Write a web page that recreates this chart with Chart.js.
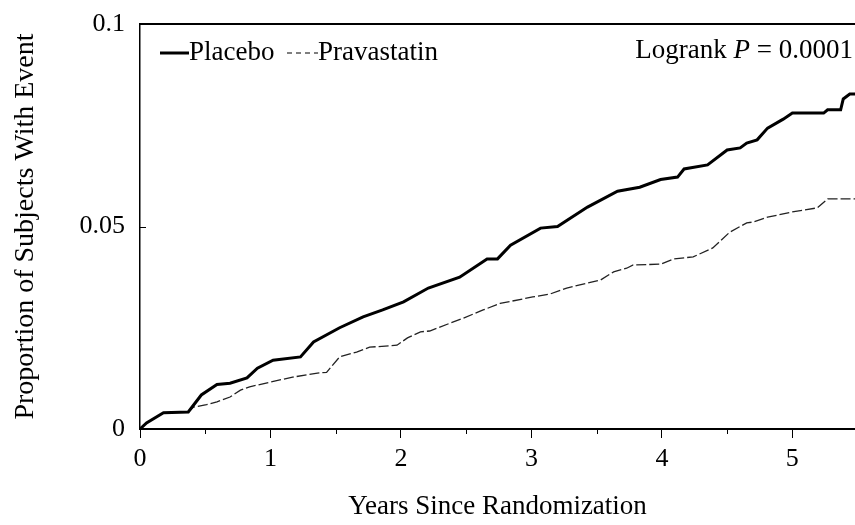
<!DOCTYPE html>
<html>
<head>
<meta charset="utf-8">
<script src="https://cdn.jsdelivr.net/npm/chart.js@4"></script>
<style>
  html, body { margin: 0; padding: 0; background: #fff; }
  canvas { display: block; }
</style>
</head>
<body>
<canvas id="grafica" width="855" height="525"></canvas>
<script>
// datos
const placeboYears = [0, 0.05, 0.18, 0.37, 0.47, 0.59, 0.69, 0.82, 0.90, 1.02, 1.23, 1.33, 1.53, 1.71, 1.86, 2.02, 2.21, 2.45, 2.66, 2.74, 2.84, 3.07, 3.20, 3.43, 3.66, 3.83, 3.99, 4.12, 4.17, 4.35, 4.50, 4.60, 4.65, 4.73, 4.81, 4.93, 5.00, 5.24, 5.27, 5.37, 5.39, 5.44, 5.48];
const placeboRisk  = [0, 0.0015, 0.004, 0.0042, 0.0084, 0.011, 0.0113, 0.0126, 0.015, 0.017, 0.0178, 0.0215, 0.025, 0.0277, 0.0294, 0.0314, 0.0348, 0.0375, 0.042, 0.042, 0.0454, 0.0496, 0.050, 0.0548, 0.0587, 0.0597, 0.0616, 0.0622, 0.0642, 0.0652, 0.0689, 0.0694, 0.0706, 0.0714, 0.0743, 0.0765, 0.078, 0.078, 0.0788, 0.0788, 0.0815, 0.0827, 0.0827];

const pravaYears = [0, 0.05, 0.18, 0.37, 0.41, 0.51, 0.59, 0.69, 0.77, 0.84, 1.0, 1.17, 1.36, 1.43, 1.53, 1.66, 1.76, 1.97, 2.05, 2.15, 2.22, 2.48, 2.63, 2.76, 3.01, 3.14, 3.27, 3.53, 3.63, 3.73, 3.78, 3.99, 4.09, 4.24, 4.39, 4.52, 4.65, 4.70, 4.81, 5.0, 5.19, 5.27, 5.48];
const pravaRisk  = [0, 0.0015, 0.004, 0.0042, 0.0054, 0.006, 0.0067, 0.0079, 0.0096, 0.0104, 0.0116, 0.0128, 0.0138, 0.014, 0.0178, 0.019, 0.0202, 0.0207, 0.0225, 0.024, 0.0242, 0.0274, 0.0294, 0.031, 0.0326, 0.0333, 0.0348, 0.0368, 0.0388, 0.0397, 0.0405, 0.0407, 0.042, 0.0425, 0.0447, 0.0486, 0.0509, 0.0511, 0.0523, 0.0536, 0.0546, 0.0568, 0.0568];

const xTicks = [0, 1, 2, 3, 4, 5];
const xMinorTicks = [0.5, 1.5, 2.5, 3.5, 4.5];
const yTicks = [0, 0.05, 0.1];
const yTickLabels = ["0", "0.05", "0.1"];

const serif = "'Liberation Serif', 'Times New Roman', serif";

function puntos(xs, ys) {
    return xs.map((x, i) => ({ x: x, y: ys[i] }));
}

// marco superior, ticks menores y leyenda escrita dentro del grafico
const extras = {
    id: "extras",
    afterDraw(chart) {
        const ctx = chart.ctx;
        const area = chart.chartArea;
        const xs = chart.scales.x;
        const ys = chart.scales.y;
        ctx.save();
        ctx.strokeStyle = "#000";
        ctx.lineWidth = 2;
        ctx.beginPath();
        ctx.moveTo(area.left, area.top);
        ctx.lineTo(area.right, area.top);
        ctx.stroke();

        // ticks menores del eje x (hacia abajo)
        ctx.lineWidth = 1;
        xMinorTicks.forEach((v) => {
            const px = Math.round(xs.getPixelForValue(v)) + 0.5;
            ctx.beginPath();
            ctx.moveTo(px, area.bottom);
            ctx.lineTo(px, area.bottom + 5);
            ctx.stroke();
        });

        // ticks del eje y hacia adentro
        yTicks.forEach((v) => {
            const py = Math.round(ys.getPixelForValue(v)) + 0.5;
            ctx.beginPath();
            ctx.moveTo(area.left, py);
            ctx.lineTo(area.left + 6, py);
            ctx.stroke();
        });

        // leyenda
        ctx.fillStyle = "#000";
        ctx.textBaseline = "alphabetic";
        ctx.font = "27px " + serif;
        ctx.lineWidth = 3;
        ctx.beginPath();
        ctx.moveTo(160, 53);
        ctx.lineTo(189, 53);
        ctx.stroke();
        ctx.textAlign = "left";
        ctx.fillText("Placebo", 189, 60);

        ctx.lineWidth = 1.2;
        ctx.setLineDash([5, 4]);
        ctx.beginPath();
        ctx.moveTo(287, 53);
        ctx.lineTo(318, 53);
        ctx.stroke();
        ctx.setLineDash([]);
        ctx.fillText("Pravastatin", 318, 60);

        // logrank
        ctx.textAlign = "left";
        const t1 = "Logrank ";
        const t2 = "P";
        const t3 = " = 0.0001";
        ctx.font = "27px " + serif;
        const w1 = ctx.measureText(t1).width;
        const w3 = ctx.measureText(t3).width;
        ctx.font = "italic 27px " + serif;
        const w2 = ctx.measureText(t2).width;
        let x0 = 853 - (w1 + w2 + w3);
        ctx.font = "27px " + serif;
        ctx.fillText(t1, x0, 58);
        ctx.font = "italic 27px " + serif;
        ctx.fillText(t2, x0 + w1, 58);
        ctx.font = "27px " + serif;
        ctx.fillText(t3, x0 + w1 + w2, 58);
        ctx.restore();
    }
};

let ctxKM = document.getElementById("grafica").getContext("2d");

let opciones = {
    type: "line",
    data: {
        datasets: [
            {
                label: "Placebo",
                data: puntos(placeboYears, placeboRisk),
                borderColor: "#000",
                borderWidth: 3,
                pointRadius: 0,
                tension: 0,
                fill: false
            },
            {
                label: "Pravastatin",
                data: puntos(pravaYears, pravaRisk),
                borderColor: "#222",
                borderWidth: 1.3,
                borderDash: [10, 3],
                pointRadius: 0,
                tension: 0,
                fill: false
            }
        ]
    },
    options: {
        responsive: false,
        animation: false,
        layout: { padding: { top: 24, left: 0, right: 0, bottom: 0 } },
        plugins: {
            legend: { display: false },
            tooltip: { enabled: false }
        },
        scales: {
            x: {
                type: "linear",
                min: 0,
                max: 5.48,
                afterFit: (scale) => { scale.height = 96; },
                afterBuildTicks: (scale) => { scale.ticks = xTicks.map((v) => ({ value: v })); },
                ticks: {
                    color: "#000",
                    font: { family: serif, size: 26 },
                    padding: 6,
                    maxRotation: 0,
                    callback: (v) => String(v)
                },
                grid: {
                    drawOnChartArea: false,
                    drawTicks: true,
                    tickLength: 9,
                    color: "#000",
                    lineWidth: 1
                },
                border: { display: true, color: "#000", width: 2 },
                title: {
                    display: true,
                    text: "Years Since Randomization",
                    color: "#000",
                    font: { family: serif, size: 27 },
                    padding: { top: 0, bottom: 2 }
                }
            },
            y: {
                min: 0,
                max: 0.1,
                afterFit: (scale) => { scale.width = 140; },
                afterBuildTicks: (scale) => { scale.ticks = yTicks.map((v) => ({ value: v })); },
                ticks: {
                    color: "#000",
                    font: { family: serif, size: 26 },
                    padding: 0,
                    callback: (v) => yTickLabels[yTicks.indexOf(v)]
                },
                grid: {
                    drawOnChartArea: false,
                    drawTicks: true,
                    tickLength: 15,
                    tickColor: "rgba(0,0,0,0)"
                },
                border: { display: true, color: "#000", width: 1.5 },
                title: {
                    display: true,
                    text: "Proportion of Subjects With Event",
                    color: "#000",
                    font: { family: serif, size: 28 },
                    padding: { top: 9, bottom: 0 }
                }
            }
        }
    },
    plugins: [extras]
};

let graficaKM = new Chart(ctxKM, opciones);
</script>
</body>
</html>
